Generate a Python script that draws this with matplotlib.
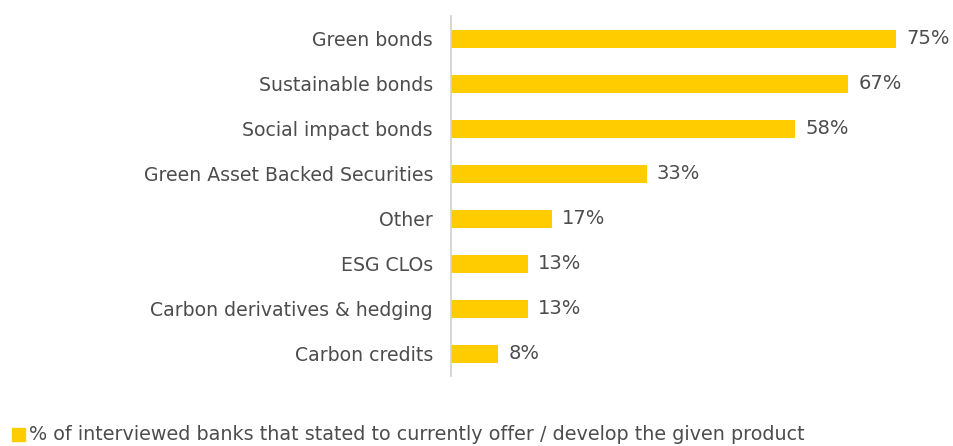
import matplotlib.pyplot as plt
from matplotlib.patches import Rectangle

# Data
productos = ['Green bonds', 'Sustainable bonds', 'Social impact bonds',
             'Green Asset Backed Securities', 'Other', 'ESG CLOs',
             'Carbon derivatives & hedging', 'Carbon credits']
valores = [75, 67, 58, 33, 17, 13, 13, 8]
leyenda = '% of interviewed banks that stated to currently offer / develop the given product'

amarillo = '#FFCC00'
gris = '#4d4d4d'

plt.rcParams['font.family'] = ['DejaVu Sans']

fig = plt.figure(figsize=(9.54, 4.46), dpi=100)
ax = fig.add_axes([451 / 954, 70 / 446, 503 / 954, 360 / 446])

y = list(range(len(productos)))
ax.barh(y, valores, height=0.4, color=amarillo)
ax.set_ylim(len(productos) - 0.5, -0.5)
ax.set_xlim(0, 84.8)

ax.set_yticks(y)
ax.set_yticklabels(productos, fontsize=13.6, color=gris)
ax.tick_params(axis='y', length=0, pad=13)
ax.set_xticks([])

for s in ['top', 'right', 'bottom']:
    ax.spines[s].set_visible(False)
ax.spines['left'].set_color('#d0d0d0')
ax.spines['left'].set_linewidth(1.2)

# Etiquetas de valores
for i, v in enumerate(valores):
    ax.text(v + 1.7, i, f'{v}%', va='center', ha='left', fontsize=14, color=gris, clip_on=False)

# Leyenda manual
fig.patches.append(Rectangle((12 / 954, 5 / 446), 13 / 954, 13 / 446,
                             transform=fig.transFigure, color=amarillo))
fig.text(29 / 954, 11 / 446, leyenda, fontsize=13.8, color=gris, va='center', ha='left')

fig.savefig('out.png', dpi=100)
